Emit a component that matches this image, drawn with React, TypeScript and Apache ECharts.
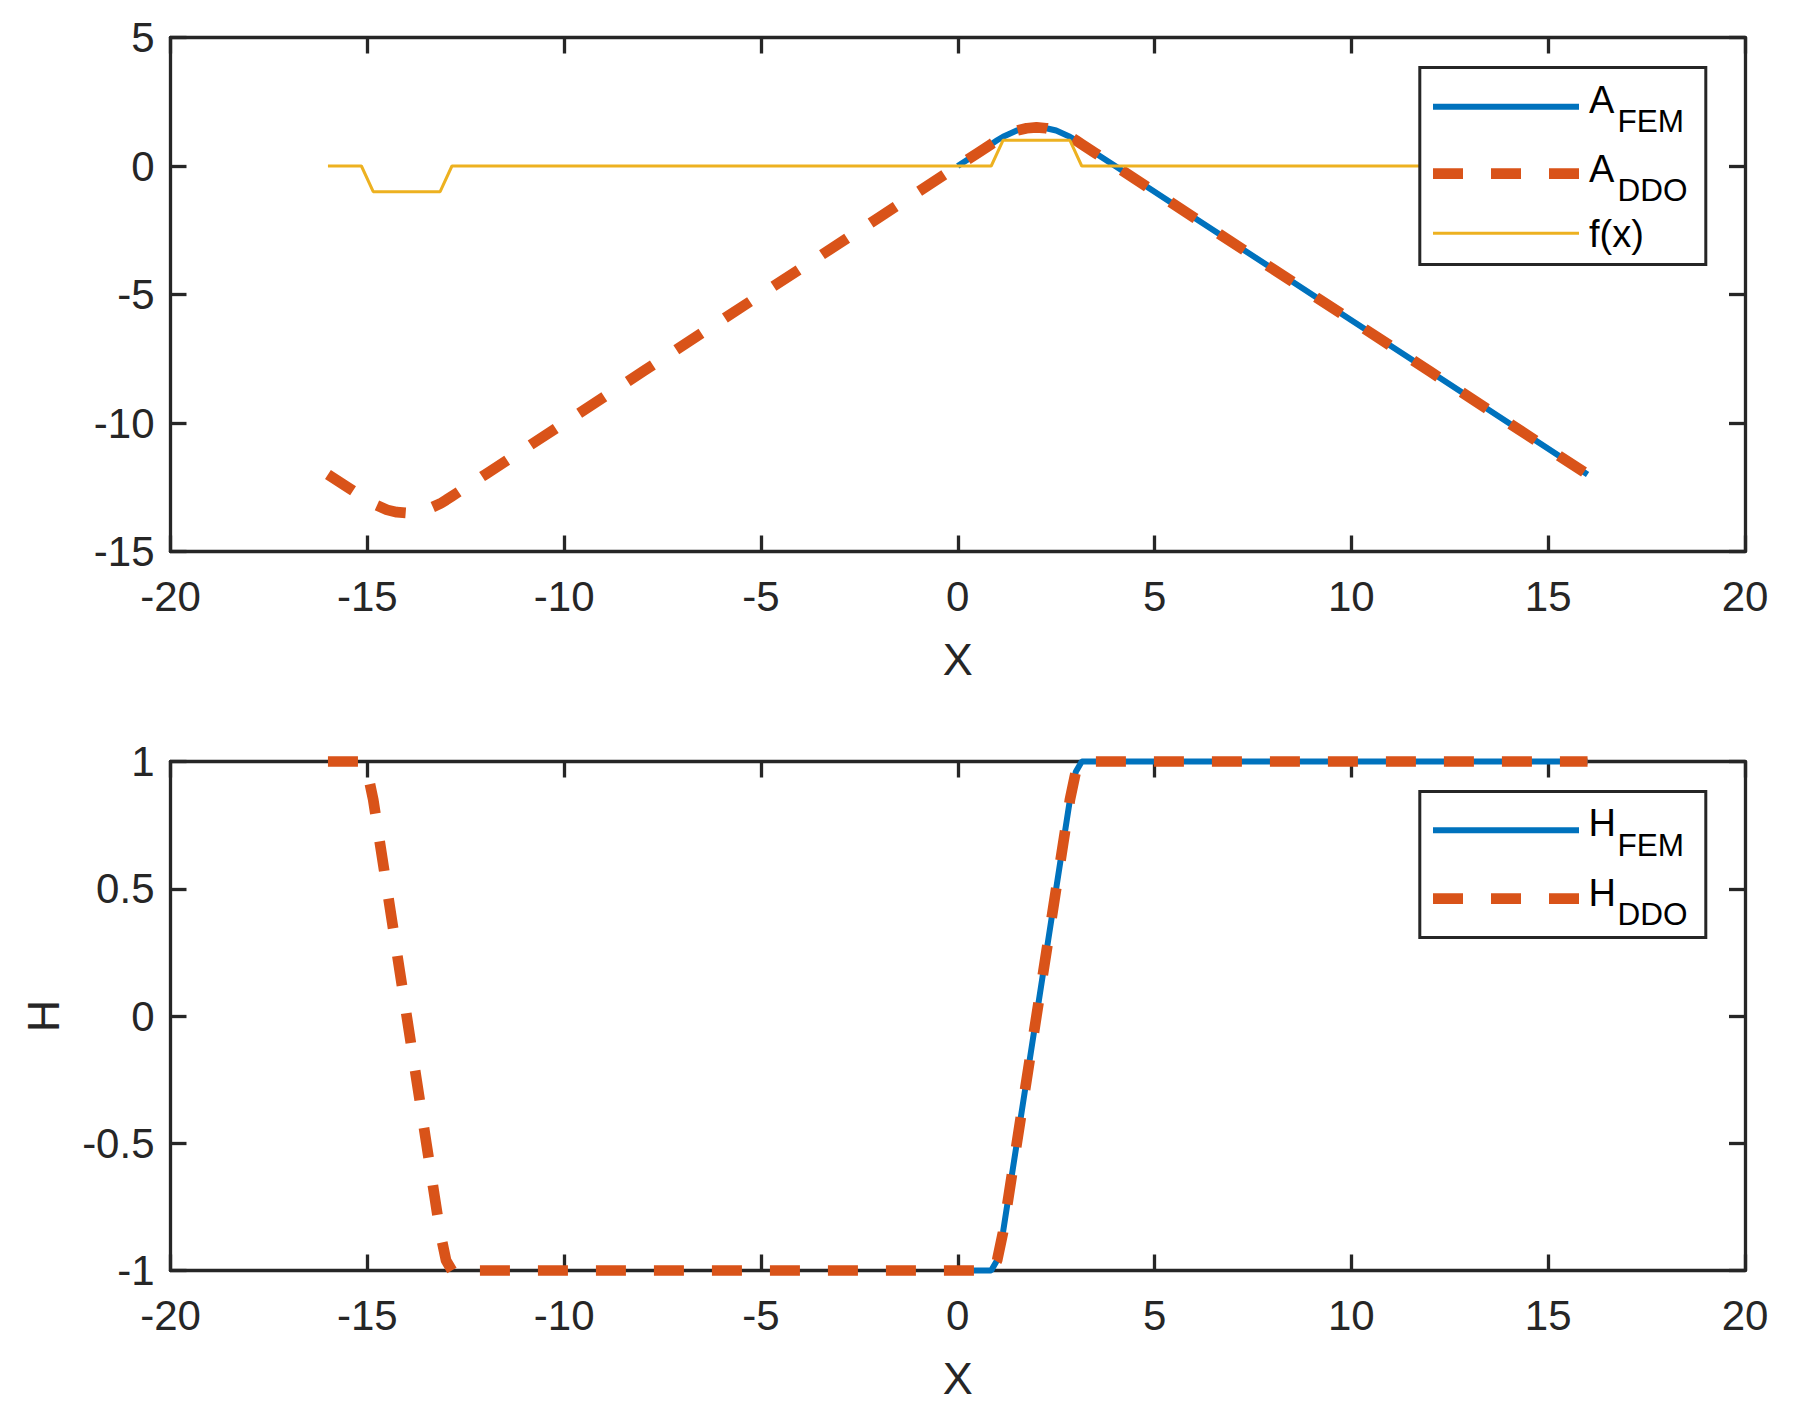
import React, { useEffect, useRef } from 'react';
import * as echarts from 'echarts';

// ---------- data ----------
const xTickMin = -20;
const xTickMax = 20;
const xTickStep = 5;

const topYMin = -15;
const topYMax = 5;
const topYStep = 5;

const botYMin = -1;
const botYMax = 1;
const botYStep = 0.5;

// DDO solution sampled along x (whole domain)
const xDDO = [-16, -15.5, -15.15, -15, -14.85, -14.5, -14.25, -14, -13.75, -13.5, -13.15, -13, -12.85, -12, -10, -8, -6, -4, -2, 0, 0.5, 0.85, 1, 1.15, 1.5, 1.75, 2, 2.25, 2.5, 2.85, 3, 3.15, 3.5, 4, 6, 8, 10, 12, 14, 16];
const aDDO = [-12, -12.5, -12.85, -13.0, -13.14, -13.38, -13.47, -13.5, -13.47, -13.38, -13.14, -13.0, -12.85, -12, -10, -8, -6, -4, -2, 0, 0.5, 0.85, 1.0, 1.14, 1.38, 1.47, 1.5, 1.47, 1.38, 1.14, 1.0, 0.85, 0.5, 0, -2, -4, -6, -8, -10, -12];
const hDDO = [1, 1, 1, 0.96, 0.85, 0.5, 0.25, 0, -0.25, -0.5, -0.85, -0.96, -1, -1, -1, -1, -1, -1, -1, -1, -1, -1, -0.96, -0.85, -0.5, -0.25, 0, 0.25, 0.5, 0.85, 0.96, 1, 1, 1, 1, 1, 1, 1, 1, 1];

// FEM solution (x >= 0 only)
const xFEM = [0, 0.5, 0.85, 1, 1.15, 1.5, 1.75, 2, 2.25, 2.5, 2.85, 3, 3.15, 3.5, 4, 6, 8, 10, 12, 14, 16];
const aFEM = [0, 0.5, 0.85, 1.0, 1.14, 1.38, 1.47, 1.5, 1.47, 1.38, 1.14, 1.0, 0.85, 0.5, 0, -2, -4, -6, -8, -10, -12];
const hFEM = [-1, -1, -1, -0.96, -0.85, -0.5, -0.25, 0, 0.25, 0.5, 0.85, 0.96, 1, 1, 1, 1, 1, 1, 1, 1, 1];

// source term f(x)
const xF = [-16, -15.15, -14.85, -13.15, -12.85, 0.85, 1.15, 2.85, 3.15, 16];
const yF = [0, 0, -1, -1, 0, 0, 1, 1, 0, 0];

// legend entries: [main letter, subscript]
const topLegend: [string, string][] = [['A', 'FEM'], ['A', 'DDO'], ['f(x)', '']];
const botLegend: [string, string][] = [['H', 'FEM'], ['H', 'DDO']];

// ---------- styles ----------
const BLUE = '#0072BD';
const RED = '#D95319';
const YELLOW = '#EDB120';
const AXIS = '#262626';
const FONT = '"Liberation Sans", Arial, Helvetica, sans-serif';
const TICK_FS = 42;
const LABEL_FS = 45;
const LEG_FS = 38;
const SUB_FS = 31.5;
const W_FEM = 6;
const W_DDO = 10.7;
const W_F = 3;
const DASH = [30, 28];

const zip = (xs: number[], ys: number[]) => xs.map((x, i) => [x, ys[i]]);

const axisLineStyle = { color: AXIS, width: 3.3 };

function xAxes(gridIndex: number) {
  const base = {
    type: 'value',
    gridIndex,
    min: xTickMin,
    max: xTickMax,
    interval: xTickStep,
    splitLine: { show: false },
    axisLine: { show: true, onZero: false, lineStyle: axisLineStyle },
    axisTick: { show: true, inside: true, length: 16, lineStyle: axisLineStyle },
  };
  return [
    {
      ...base,
      position: 'bottom',
      axisLabel: { color: AXIS, fontSize: TICK_FS, fontFamily: FONT, margin: 24 },
      name: 'X',
      nameLocation: 'middle',
      nameGap: 85,
      nameTextStyle: { color: AXIS, fontSize: LABEL_FS, fontFamily: FONT },
    },
    { ...base, position: 'top', axisLabel: { show: false } },
  ];
}

function yAxes(gridIndex: number, min: number, max: number, step: number, name?: string) {
  const base = {
    type: 'value',
    gridIndex,
    min,
    max,
    interval: step,
    splitLine: { show: false },
    axisLine: { show: true, onZero: false, lineStyle: axisLineStyle },
    axisTick: { show: true, inside: true, length: 16, lineStyle: axisLineStyle },
  };
  const left: any = {
    ...base,
    position: 'left',
    axisLabel: { color: AXIS, fontSize: TICK_FS, fontFamily: FONT, margin: 16, padding: [6, 0, 0, 0] },
  };
  if (name) {
    left.name = name;
    left.nameLocation = 'middle';
    left.nameGap = 105;
    left.nameTextStyle = { color: AXIS, fontSize: LABEL_FS, fontFamily: FONT };
  }
  return [left, { ...base, position: 'right', axisLabel: { show: false } }];
}

// ---------- hand-drawn MATLAB-style legend boxes ----------
type LegRow = { color: string; width: number; dash?: number[]; lineY: number; mainY: number; subY: number; subX: number };

function legendGraphic(
  box: { x: number; y: number; w: number; h: number },
  entries: [string, string][],
  rows: LegRow[],
) {
  const els: any[] = [
    {
      type: 'rect',
      z: 100,
      shape: { x: box.x, y: box.y, width: box.w, height: box.h },
      style: { fill: '#ffffff', stroke: AXIS, lineWidth: 3 },
    },
  ];
  entries.forEach(([main, sub], i) => {
    const r = rows[i];
    els.push({
      type: 'line',
      z: 101,
      shape: { x1: 1433, y1: r.lineY, x2: 1579, y2: r.lineY },
      style: { stroke: r.color, lineWidth: r.width, lineDash: r.dash || null, lineCap: 'butt' },
    });
    els.push({
      type: 'text',
      z: 101,
      x: main === 'H' ? 1588.5 : 1589,
      y: r.mainY,
      style: {
        text: main,
        fill: '#000000',
        fontSize: LEG_FS,
        fontFamily: FONT,
        align: 'left',
        verticalAlign: 'middle',
        textAlign: 'left',
        textVerticalAlign: 'middle',
      },
    });
    if (sub) {
      els.push({
        type: 'text',
        z: 101,
        x: r.subX,
        y: r.subY,
        style: {
          text: sub,
          fill: '#000000',
          fontSize: SUB_FS,
          fontFamily: FONT,
          align: 'left',
          verticalAlign: 'middle',
          textAlign: 'left',
          textVerticalAlign: 'middle',
        },
      });
    }
  });
  return els;
}

const topRows: LegRow[] = [
  { color: BLUE, width: W_FEM, lineY: 106.7, mainY: 100.3, subY: 120.5, subX: 1617.6 },
  { color: RED, width: W_DDO, dash: DASH, lineY: 173.7, mainY: 168.7, subY: 189.5, subX: 1617.6 },
  { color: YELLOW, width: W_F, lineY: 233.3, mainY: 234, subY: 0, subX: 0 },
];
const botRows: LegRow[] = [
  { color: BLUE, width: W_FEM, lineY: 830.3, mainY: 823.3, subY: 844.5, subX: 1617.6 },
  { color: RED, width: W_DDO, dash: DASH, lineY: 898.7, mainY: 892.7, subY: 914.2, subX: 1617.6 },
];

const option: any = {
  animation: false,
  backgroundColor: '#ffffff',
  grid: [
    { left: 170.5, top: 37.5, width: 1574.5, height: 514, containLabel: false },
    { left: 170.5, top: 761.5, width: 1574.5, height: 509, containLabel: false },
  ],
  xAxis: [...xAxes(0), ...xAxes(1)],
  yAxis: [...yAxes(0, topYMin, topYMax, topYStep), ...yAxes(1, botYMin, botYMax, botYStep, 'H')],
  graphic: [
    ...legendGraphic({ x: 1419.8, y: 67.5, w: 286, h: 197 }, topLegend, topRows),
    ...legendGraphic({ x: 1419.8, y: 791.5, w: 286, h: 146 }, botLegend, botRows),
  ],
  series: [
    {
      name: 'A_FEM', type: 'line', xAxisIndex: 0, yAxisIndex: 0,
      data: zip(xFEM, aFEM), symbol: 'none', showSymbol: false, clip: false,
      itemStyle: { color: BLUE }, lineStyle: { color: BLUE, width: W_FEM },
    },
    {
      name: 'A_DDO', type: 'line', xAxisIndex: 0, yAxisIndex: 0,
      data: zip(xDDO, aDDO), symbol: 'none', showSymbol: false, clip: false,
      itemStyle: { color: RED }, lineStyle: { color: RED, width: W_DDO, type: DASH },
    },
    {
      name: 'f(x)', type: 'line', xAxisIndex: 0, yAxisIndex: 0,
      data: zip(xF, yF), symbol: 'none', showSymbol: false, clip: false,
      itemStyle: { color: YELLOW }, lineStyle: { color: YELLOW, width: W_F },
    },
    {
      name: 'H_FEM', type: 'line', xAxisIndex: 2, yAxisIndex: 2,
      data: zip(xFEM, hFEM), symbol: 'none', showSymbol: false, clip: false,
      itemStyle: { color: BLUE }, lineStyle: { color: BLUE, width: W_FEM },
    },
    {
      name: 'H_DDO', type: 'line', xAxisIndex: 2, yAxisIndex: 2,
      data: zip(xDDO, hDDO), symbol: 'none', showSymbol: false, clip: false,
      itemStyle: { color: RED }, lineStyle: { color: RED, width: W_DDO, type: DASH },
    },
  ],
};

export default function App() {
  const ref = useRef<HTMLDivElement>(null);
  useEffect(() => {
    if (!ref.current) return;
    const chart = echarts.init(ref.current, null, { renderer: 'svg' });
    chart.setOption(option);
    return () => chart.dispose();
  }, []);
  return (
    <div
      ref={ref}
      style={{ position: 'absolute', left: 0, top: 0, width: 1797, height: 1413, background: '#fff' }}
    />
  );
}
